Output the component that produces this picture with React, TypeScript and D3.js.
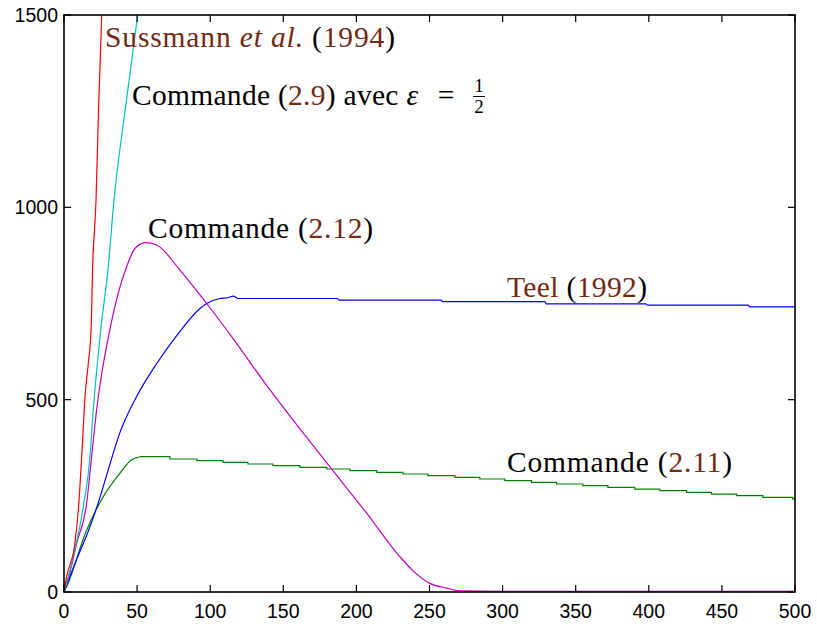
import React, { useEffect, useRef } from "react";
import * as d3 from "d3";

// axis ticks
const xTicks = [0, 50, 100, 150, 200, 250, 300, 350, 400, 450, 500];
const yTicks = [0, 500, 1000, 1500];

// Sussmann et al. (1994) - red
const redT = [0, 1.8, 7.5, 9.8, 12.1, 14.4, 16.6, 18.5, 19.6, 21.9, 23.5, 25.8, 27];
const redY = [0, 40, 127, 213, 352, 508, 594, 681, 846, 1019, 1235, 1500, 1580];

// Commande (2.9) eps=1/2 - cyan
const cyanT = [0, 5.2, 13.2, 17.8, 20, 22.8, 25.1, 30.3, 34.2, 41.2, 50.4, 52];
const cyanY = [0, 74, 222, 352, 473, 594, 681, 846, 1019, 1235, 1500, 1550];

// Commande (2.12) - magenta
const magT = [0, 4, 8.7, 15.5, 18.9, 22.3, 25.8, 29.2, 32.6, 37.1, 42.9, 48.5, 56, 63.4, 79.3, 97.6, 115.8, 138.6, 161.4, 183, 207, 229.7, 238.8, 250, 261.7, 270.8, 300, 500];
const magY = [0, 50, 127, 231, 352, 473, 568, 640, 705, 777, 846, 893, 908, 902, 837, 750, 658, 537, 424, 320, 205, 92, 55, 23, 10, 3, 2, 2];

// Teel (1992) - blue
const blueT = [0, 7.5, 17.3, 24.1, 30.3, 38.3, 48.5, 63.4, 77, 93, 97.6, 106.7, 112, 115.8, 119, 187, 188, 258, 259, 329, 330, 398, 399, 468, 469, 500];
const blueY = [0, 74, 165, 240, 318, 415, 500, 594, 666, 737, 750, 763, 765, 769, 763, 763, 759, 759, 755, 755, 749, 749, 746, 746, 741, 741];

// Commande (2.11) - green, rising part then staircase
const greenRiseT = [0, 1.8, 15.5, 26.9, 38.3, 46, 52];
const greenRiseY = [0, 14, 161, 248, 309, 343, 351.7];
const greenStepT = [52, 72.5, 90.9, 108.7, 125.8, 142.9, 161.4, 179.8, 195.6, 214, 231.8, 248.9, 267.4, 284.4, 301.5, 319.8, 336.9, 354.9, 372, 390.4, 407.5, 425.8, 442.9, 460, 478, 498.5, 500];
const greenStepY = [351.7, 345.7, 341.3, 337.2, 332.7, 328.3, 324.2, 319.7, 315.3, 311.2, 306.7, 302.3, 298.2, 293.7, 289.3, 285.2, 280.7, 276.3, 272.2, 267.7, 263.3, 259.2, 254.7, 250.3, 246.2, 241.7, 241.7];

const W = 817, H = 627;
const left = 64, right = 795, top = 15, bottom = 592;
const brown = "#722a14";
const serif = "Liberation Serif, DejaVu Serif, serif";

function App() {
  const ref = useRef<SVGGElement>(null);

  useEffect(() => {
    const root = d3.select(ref.current);
    root.selectAll("*").remove();

    const x = d3.scaleLinear().domain([0, 500]).range([left, right]);
    const y = d3.scaleLinear().domain([0, 1500]).range([bottom, top]);

    root.append("defs").append("clipPath").attr("id", "plotclip")
      .append("rect").attr("x", left).attr("y", top)
      .attr("width", right - left).attr("height", bottom - top);

    const plot = root.append("g").attr("clip-path", "url(#plotclip)");

    const zip = (ts: number[], ys: number[]) => ts.map((t, i) => [t, ys[i]] as [number, number]);
    const smooth = d3.line<[number, number]>().x(d => x(d[0])).y(d => y(d[1])).curve(d3.curveMonotoneX);
    const step = d3.line<[number, number]>().x(d => x(d[0])).y(d => y(d[1])).curve(d3.curveStepAfter);

    const series = [
      { d: zip(greenRiseT, greenRiseY), c: "#008000", g: smooth },
      { d: zip(greenStepT, greenStepY), c: "#008000", g: step },
      { d: zip(blueT, blueY), c: "#0000ff", g: smooth },
      { d: zip(magT, magY), c: "#bf00bf", g: smooth },
      { d: zip(cyanT, cyanY), c: "#00bfbf", g: smooth },
      { d: zip(redT, redY), c: "#ff0000", g: smooth },
    ];
    series.forEach(s => {
      plot.append("path").attr("d", s.g(s.d)).attr("fill", "none")
        .attr("stroke", s.c).attr("stroke-width", 1.2);
    });

    // frame and inward ticks on all four sides
    const ax = root.append("g").attr("stroke", "#000").attr("stroke-width", 1.2);
    xTicks.forEach(t => {
      ax.append("line").attr("x1", x(t)).attr("x2", x(t)).attr("y1", bottom).attr("y2", bottom - 7);
      ax.append("line").attr("x1", x(t)).attr("x2", x(t)).attr("y1", top).attr("y2", top + 7);
    });
    yTicks.forEach(t => {
      ax.append("line").attr("x1", left).attr("x2", left + 7).attr("y1", y(t)).attr("y2", y(t));
      ax.append("line").attr("x1", right).attr("x2", right - 7).attr("y1", y(t)).attr("y2", y(t));
    });
    root.append("rect").attr("x", left).attr("y", top)
      .attr("width", right - left).attr("height", bottom - top)
      .attr("fill", "none").attr("stroke", "#000").attr("stroke-width", 1.6);

    const lab = root.append("g").attr("font-family", "'Liberation Sans', Arial, sans-serif")
      .attr("font-size", 19.5).attr("fill", "#000");
    xTicks.forEach(t => {
      lab.append("text").attr("x", x(t)).attr("y", 618).attr("text-anchor", "middle").text(t);
    });
    yTicks.forEach(t => {
      lab.append("text").attr("x", left - 6).attr("y", y(t) + 7).attr("text-anchor", "end").text(t);
    });
  }, []);

  const fs = 29.5;
  return (
    <svg width={W} height={H} style={{ position: "absolute", left: 0, top: 0, background: "#fff" }}>
      <g ref={ref} />
      <g fontFamily={serif} fontSize={fs}>
        <text x={105} y={47} fill={brown} textLength={290} lengthAdjust="spacing">
          Sussmann <tspan fontStyle="italic">et al.</tspan> <tspan fill="#000">(</tspan>1994<tspan fill="#000">)</tspan>
        </text>
        <text x={132} y={105} fill="#000" textLength={286} lengthAdjust="spacing">
          Commande (<tspan fill={brown}>2.9</tspan>) avec <tspan fontStyle="italic">ε</tspan>
        </text>
        <text x={446} y={105} fill="#000" textAnchor="middle">=</text>
        <text x={479} y={92} fontSize={19} fill="#000" textAnchor="middle">1</text>
        <line x1={473} x2={485} y1={96.5} y2={96.5} stroke="#000" strokeWidth={1} />
        <text x={479} y={113} fontSize={19} fill="#000" textAnchor="middle">2</text>
        <text x={148} y={238} fill="#000" textLength={225} lengthAdjust="spacing">
          Commande (<tspan fill={brown}>2.12</tspan>)
        </text>
        <text x={507} y={297} fill={brown} textLength={140} lengthAdjust="spacing">
          Teel <tspan fill="#000">(</tspan>1992<tspan fill="#000">)</tspan>
        </text>
        <text x={507} y={472} fill="#000" textLength={225} lengthAdjust="spacing">
          Commande (<tspan fill={brown}>2.11</tspan>)
        </text>
      </g>
    </svg>
  );
}

export default App;
